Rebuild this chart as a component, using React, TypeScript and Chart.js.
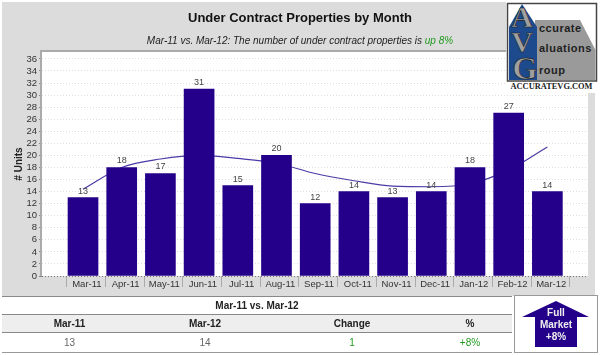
import React, { useEffect, useRef } from "react";
import { Chart, registerables } from "chart.js";

Chart.register(...registerables);

const categories = ["Mar-11","Apr-11","May-11","Jun-11","Jul-11","Aug-11","Sep-11","Oct-11","Nov-11","Dec-11","Jan-12","Feb-12","Mar-12"];
const units = [13,18,17,31,15,20,12,14,13,14,18,27,14];
const trend = [14.4,18,19.4,20,19.5,18.7,17,15.8,14.9,14.8,15.3,17.6,21.4];
const yTicks = [0,2,4,6,8,10,12,14,16,18,20,22,24,26,28,30,32,34,36];
const LABEL_OFFSET = 0.1;
const SEP_OFFSET = -0.42;
const FONT = "'Liberation Sans', Arial, sans-serif";

const valueLabels = {
  id: "valueLabels",
  afterDatasetsDraw(chart: any) {
    const { ctx, scales } = chart;
    ctx.save();
    ctx.font = `9px ${FONT}`;
    ctx.fillStyle = "#444";
    ctx.textAlign = "center";
    ctx.textBaseline = "alphabetic";
    units.forEach((v, i) => {
      ctx.fillText(String(v), scales.x.getPixelForValue(i), scales.y.getPixelForValue(v) - 4);
    });
    ctx.restore();
  },
};

const plotFrame = {
  id: "plotFrame",
  beforeDraw(chart: any) {
    const { ctx, chartArea: a } = chart;
    ctx.save();
    ctx.fillStyle = "#fff";
    ctx.fillRect(a.left, a.top, a.right - a.left, a.bottom - a.top);
    ctx.restore();
  },
  afterDraw(chart: any) {
    const { ctx, chartArea: a } = chart;
    ctx.save();
    ctx.strokeStyle = "#aaaaaa";
    ctx.lineWidth = 2;
    ctx.beginPath();
    ctx.moveTo(a.left - 1, a.bottom);
    ctx.lineTo(a.left - 1, a.top - 1);
    ctx.lineTo(a.right, a.top - 1);
    ctx.stroke();
    ctx.restore();
  },
};

function Logo() {
  const letter = { fontFamily: "'Liberation Serif', serif", fontWeight: 700, fill: "#a0a0a0", stroke: "#1a1a1a", strokeWidth: 0.6 } as const;
  const word = { fontFamily: FONT, fontWeight: 700, fontSize: 11, letterSpacing: 0.5, fill: "#1f1f1f" } as const;
  return (
    <svg width={92} height={92} viewBox="506 1 92 92" style={{ position: "absolute", left: 506, top: 1 }}>
      <rect x={506} y={1} width={92} height={92} fill="#fff" />
      <rect x={507.5} y={3.5} width={89} height={77.5} fill="#fff" stroke="#444" strokeWidth={1.5} />
      <polygon points="535,20 580,20 595.5,50 595.5,80 535,80" fill="#9a9a9a" />
      <polygon points="509,80 509,27 522,4 537,27 537,80" fill="#1d4a8c" />
      <text x={522} y={27} textAnchor="middle" fontSize={30} style={letter}>A</text>
      <text x={522} y={52} textAnchor="middle" fontSize={30} style={letter}>V</text>
      <text x={525} y={79} textAnchor="middle" fontSize={32} style={letter}>G</text>
      <text x={539} y={32} style={word}>ccurate</text>
      <text x={539} y={52} style={word}>aluations</text>
      <text x={539} y={74} style={word}>roup</text>
      <text x={551.5} y={89} textAnchor="middle" style={{ fontFamily: "'Liberation Serif', serif", fontWeight: 700, fontSize: 8.4, fill: "#222" }}>ACCURATEVG.COM</text>
    </svg>
  );
}

const cell: React.CSSProperties = { position: "absolute", textAlign: "center", fontFamily: FONT, fontSize: 10 };

export default function App() {
  const ref = useRef<HTMLCanvasElement>(null);
  useEffect(() => {
    document.body.style.margin = "0";
    document.body.style.background = "#fff";
    const chart = new Chart(ref.current as any, {
      type: "bar",
      plugins: [plotFrame, valueLabels],
      data: {
        datasets: [
          { type: "bar", label: "Units", order: 1, data: units.map((y, x) => ({ x, y })), backgroundColor: "#24008a", barThickness: 30 },
          { type: "line", label: "Trend", order: 2, data: trend.map((y, x) => ({ x, y })), borderColor: "#4c3aa6", borderWidth: 1.2, pointRadius: 0, tension: 0.4, cubicInterpolationMode: "monotone" },
        ],
      } as any,
      options: {
        animation: false,
        responsive: false,
        layout: { padding: { left: 0, right: 12, top: 52, bottom: 0 } },
        plugins: { legend: { display: false }, tooltip: { enabled: false }, title: { display: false } },
        scales: {
          x: {
            type: "linear",
            offset: false,
            min: -1.06,
            max: 13.05,
            afterBuildTicks(s: any) {
              const t: any[] = [];
              categories.forEach((_, i) => {
                t.push({ value: i + SEP_OFFSET });
                t.push({ value: i + LABEL_OFFSET });
              });
              t.push({ value: categories.length + SEP_OFFSET });
              s.ticks = t;
            },
            afterFit(s: any) {
              s.height = 21;
              s.paddingLeft = 0;
              s.paddingRight = 0;
              s._margins = { left: 0, right: 0, top: 0, bottom: 0 };
            },
            grid: {
              offset: false,
              drawOnChartArea: false,
              drawTicks: true,
              tickLength: 11,
              tickColor: (c: any) => (c.tick && Math.abs(c.tick.value - Math.round(c.tick.value) - LABEL_OFFSET) < 0.01 ? "rgba(0,0,0,0)" : "#aaaaaa"),
            },
            border: { display: false },
            ticks: {
              autoSkip: false,
              maxRotation: 0,
              padding: -8,
              color: "#333",
              font: { family: FONT, size: 9.5 },
              callback: (v: any) => {
                const i = Math.round(Number(v) - LABEL_OFFSET);
                return Math.abs(Number(v) - LABEL_OFFSET - i) < 0.01 ? categories[i] : "";
              },
            },
          },
          y: {
            type: "linear",
            min: 0,
            max: 37.15,
            afterBuildTicks(s: any) { s.ticks = yTicks.map((value) => ({ value })); },
            afterFit(s: any) {
              s.width = 42;
              s.paddingTop = 0;
              s.paddingBottom = 0;
              s._margins = { left: 0, right: 0, top: 0, bottom: 0 };
            },
            grid: {
              color: (c: any) => (c.tick && c.tick.value === 0 ? "#777" : "#dedede"),
              tickColor: "#888",
              tickLength: 3,
              lineWidth: 1,
            } as any,
            border: { display: false, dash: [1, 2] },
            ticks: { autoSkip: false, color: "#333", padding: 2, font: { family: FONT, size: 9.5 }, callback: (v: any) => String(v) },
            title: { display: true, text: "# Units", color: "#222", font: { family: FONT, size: 10, weight: "bold" }, padding: { top: 13, bottom: 0 } },
          },
        },
      } as any,
    });
    return () => chart.destroy();
  }, []);

  return (
    <div style={{ position: "relative", width: 600, height: 355, background: "#fff", overflow: "hidden" }}>
      <div style={{ position: "absolute", left: 2, top: 2, width: 593, height: 294, background: "#dcdcdc" }} />
      <canvas ref={ref} width={600} height={297} style={{ position: "absolute", left: 0, top: 0, display: "block", width: 600, height: 297 }} />
      <div style={{ ...cell, left: 0, width: 600, top: 10, fontSize: 13, fontWeight: 700, color: "#111" }}>Under Contract Properties by Month</div>
      <div style={{ ...cell, left: 0, width: 600, top: 35, fontSize: 10, fontStyle: "italic", color: "#222" }}>
        Mar-11 vs. Mar-12: The number of under contract properties is <span style={{ color: "#1f9a1f" }}>up 8%</span>
      </div>
      <Logo />

      <div style={{ position: "absolute", left: 2, top: 296, width: 510, height: 1, background: "#888" }} />
      <div style={{ ...cell, left: 2, width: 510, top: 300, fontWeight: 700, color: "#222" }}>Mar-11 vs. Mar-12</div>
      <div style={{ position: "absolute", left: 2, top: 314, width: 510, height: 19, background: "#eeeeee", borderTop: "1px solid #888", borderBottom: "1px solid #888", boxSizing: "border-box" }} />
      <div style={{ ...cell, left: 2, width: 135, top: 318, fontWeight: 700, color: "#222" }}>Mar-11</div>
      <div style={{ ...cell, left: 141, width: 128, top: 318, fontWeight: 700, color: "#222" }}>Mar-12</div>
      <div style={{ ...cell, left: 300, width: 104, top: 318, fontWeight: 700, color: "#222" }}>Change</div>
      <div style={{ ...cell, left: 440, width: 60, top: 318, fontWeight: 700, color: "#222" }}>%</div>
      <div style={{ ...cell, left: 2, width: 135, top: 337, color: "#666" }}>13</div>
      <div style={{ ...cell, left: 141, width: 128, top: 337, color: "#666" }}>14</div>
      <div style={{ ...cell, left: 300, width: 104, top: 337, color: "#1f9a1f" }}>1</div>
      <div style={{ ...cell, left: 440, width: 60, top: 337, color: "#1f9a1f" }}>+8%</div>
      <div style={{ position: "absolute", left: 2, top: 352, width: 510, height: 1, background: "#999" }} />

      <div style={{ position: "absolute", left: 514, top: 295, width: 84, height: 58, border: "1px solid #999", boxSizing: "border-box", background: "#fff" }} />
      <svg width={84} height={58} viewBox="514 295 84 58" style={{ position: "absolute", left: 514, top: 295 }}>
        <polygon points="556,301 589,317 577,317 577,347 535,347 535,317 522,317" fill="#24008a" />
      </svg>
      <div style={{ ...cell, left: 535, width: 42, top: 307, color: "#eee", fontWeight: 700, fontSize: 10, lineHeight: "12px" }}>Full<br />Market<br />+8%</div>
    </div>
  );
}
